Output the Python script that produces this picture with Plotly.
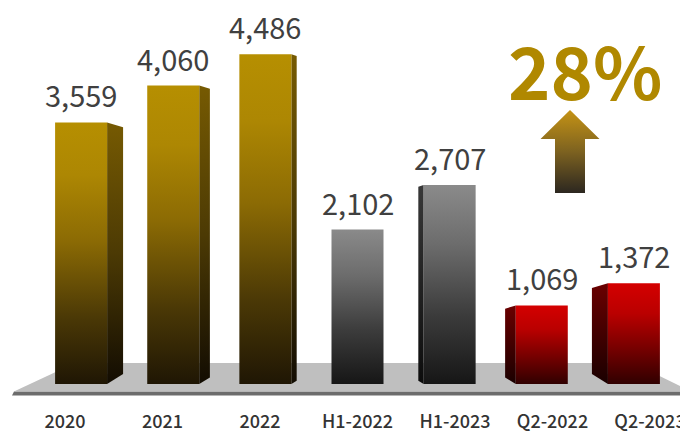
import plotly.graph_objects as go

# ---- data ----
categories = ["2020", "2021", "2022", "H1-2022", "H1-2023", "Q2-2022", "Q2-2023"]
values = [3559, 4060, 4486, 2102, 2707, 1069, 1372]
groups = ["year", "year", "year", "half", "half", "quarter", "quarter"]
growth_label = "28%"

# ---- styling ----
FONT = "Noto Sans CJK SC"
W, H = 680, 432
MARGIN_B = 28
PLOT_H = H - MARGIN_B

PX_PER_CAT = 97.5          # horizontal pixels per category slot
FIRST_CAT_PX = 65          # pixel position of the first category
PX_PER_UNIT = 0.0735       # vertical pixels per value unit
ZERO_PX = 384              # pixel row of the value 0

x_range = [(0 - FIRST_CAT_PX) / PX_PER_CAT, (W - FIRST_CAT_PX) / PX_PER_CAT]
y_range = [-(PLOT_H - ZERO_PX) / PX_PER_UNIT, ZERO_PX / PX_PER_UNIT]


def px_x(px):
    return (px - FIRST_CAT_PX) / PX_PER_CAT


def px_y(py):
    return (ZERO_PX - py) / PX_PER_UNIT


front_scales = {
    "year": [[0, "#1f1604"], [0.25, "#4a3806"], [0.55, "#8c6b04"], [0.8, "#ad8703"], [1, "#b68f01"]],
    "half": [[0, "#161616"], [0.35, "#3c3c3c"], [0.7, "#6c6c6c"], [1, "#8a8a8a"]],
    "quarter": [[0, "#300000"], [0.35, "#760000"], [0.7, "#ba0000"], [1, "#d40000"]],
}
side_scales = {
    "year": [[0, "#120c02"], [0.5, "#4c3a04"], [1, "#765a02"]],
    "half": [[0, "#0c0c0c"], [1, "#383838"]],
    "quarter": [[0, "#1a0000"], [1, "#6a0000"]],
}

CENTER_CAT = 3             # vanishing point sits over the middle category
PERSPECTIVE = 0.055        # how far bars lean toward the centre
HALF_W = 26 / PX_PER_CAT
DEPTH_PX_PER_CAT = 5.33

fig = go.Figure()

# floor plane
floor_px = [(15, 391), (75, 363), (633, 363), (690, 391), (15, 391)]
fig.add_trace(go.Scatter(
    x=[px_x(a) for a, _ in floor_px], y=[px_y(b) for _, b in floor_px],
    mode="lines", fill="toself", fillcolor="#bfbfbf", line=dict(width=0),
    hoverinfo="skip", showlegend=False))
edge_px = [(14, 391.5), (690, 391.5), (690, 395.5), (12, 395.5), (14, 391.5)]
fig.add_trace(go.Scatter(
    x=[px_x(a) for a, _ in edge_px], y=[px_y(b) for _, b in edge_px],
    mode="lines", fill="toself", fillcolor="#6c6c6c", line=dict(width=0),
    hoverinfo="skip", showlegend=False))

annotations = []
for i, (cat, v, g) in enumerate(zip(categories, values, groups)):
    c = i + (CENTER_CAT - i) * PERSPECTIVE
    d_px = (CENTER_CAT - i) * DEPTH_PX_PER_CAT
    # side face
    if abs(d_px) > 0.5:
        sign = 1 if d_px > 0 else -1
        x_edge = c + sign * HALF_W
        x_out = x_edge + d_px / PX_PER_CAT
        drop_top = abs(d_px) * 0.3 / PX_PER_UNIT
        rise_bot = abs(d_px) * 0.62 / PX_PER_UNIT
        fig.add_trace(go.Scatter(
            x=[x_edge, x_edge, x_out, x_out, x_edge],
            y=[0, v, v - drop_top, rise_bot, 0],
            mode="lines", fill="toself", line=dict(width=0),
            fillgradient=dict(type="vertical", colorscale=side_scales[g]),
            hoverinfo="skip", showlegend=False))
    # front face
    fig.add_trace(go.Scatter(
        x=[c - HALF_W, c - HALF_W, c + HALF_W, c + HALF_W, c - HALF_W],
        y=[0, v, v, 0, 0],
        mode="lines", fill="toself", line=dict(width=0),
        fillgradient=dict(type="vertical", colorscale=front_scales[g]),
        hoverinfo="skip", showlegend=False))
    annotations.append(dict(
        x=c, y=v, xref="x", yref="y", text=f"{v:,}", showarrow=False,
        yanchor="middle", yshift=28,
        font=dict(family=FONT, size=29, color="#404040")))

# growth arrow
arrow_px = [(570, 110), (599.5, 139), (585, 139), (585, 193), (555, 193),
            (555, 139), (540.5, 139), (570, 110)]
fig.add_trace(go.Scatter(
    x=[px_x(a) for a, _ in arrow_px], y=[px_y(b) for _, b in arrow_px],
    mode="lines", fill="toself", line=dict(width=0),
    fillgradient=dict(type="vertical",
                      colorscale=[[0, "#2c2720"], [0.5, "#7d6220"], [1, "#c59315"]]),
    hoverinfo="skip", showlegend=False))

annotations.append(dict(
    x=px_x(585), y=px_y(68), xref="x", yref="y", text=f"<b>{growth_label}</b>",
    showarrow=False, xanchor="center", yanchor="middle",
    font=dict(family=FONT, size=72, color="#b08800")))

fig.update_layout(
    width=W, height=H,
    margin=dict(l=0, r=0, t=0, b=MARGIN_B, autoexpand=False),
    paper_bgcolor="white", plot_bgcolor="white",
    annotations=annotations,
    xaxis=dict(range=x_range, tickmode="array", tickvals=list(range(len(categories))),
               ticktext=categories, ticks="outside", ticklen=1, automargin=False,
               tickcolor="rgba(0,0,0,0)", showgrid=False, zeroline=False,
               showline=False, fixedrange=True, ticklabeloverflow="allow",
               tickfont=dict(family=FONT, size=18, color="#333333", weight=500)),
    yaxis=dict(range=y_range, showticklabels=False, showgrid=False, automargin=False,
               zeroline=False, showline=False, fixedrange=True),
)

fig.write_html("out.html")
